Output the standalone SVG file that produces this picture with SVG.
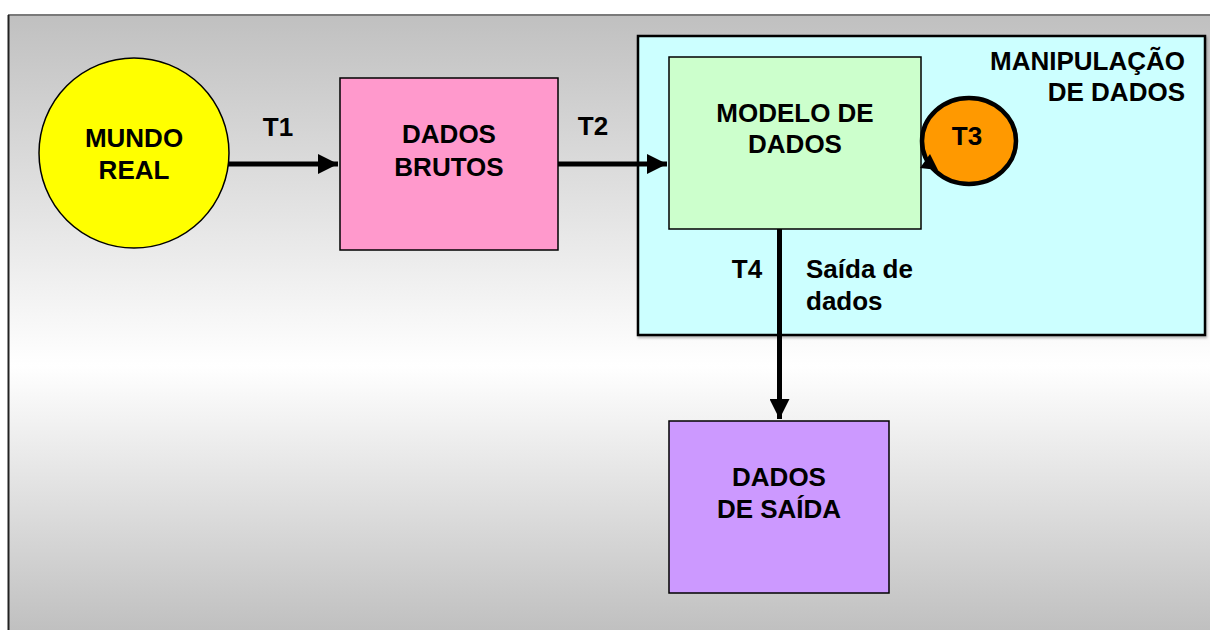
<svg xmlns="http://www.w3.org/2000/svg" width="1210" height="630" viewBox="0 0 1210 630">
  <defs>
    <linearGradient id="bg" x1="0" y1="15" x2="0" y2="630" gradientUnits="userSpaceOnUse">
      <stop offset="0" stop-color="#c0c0c0"/>
      <stop offset="0.57" stop-color="#ffffff"/>
      <stop offset="1" stop-color="#c0c0c0"/>
    </linearGradient>
    <marker id="ah" markerWidth="4" markerHeight="4" refX="4" refY="2" orient="auto" markerUnits="strokeWidth">
      <path d="M0,0 L4,2 L0,4 Z" fill="#000"/>
    </marker>
    <filter id="sh" x="-5%" y="-5%" width="110%" height="110%">
      <feDropShadow dx="1" dy="2" stdDeviation="1" flood-color="#000" flood-opacity="0.25"/>
    </filter>
  </defs>
  <style>
    text { font-family: "Liberation Sans", Arial, sans-serif; font-weight: bold; font-size: 26px; fill: #000; }
    .c { text-anchor: middle; }
    .r { text-anchor: end; }
    .box { stroke: #000; stroke-width: 1.5; }
    .conn { stroke: #000; stroke-width: 5; fill: none; }
  </style>

  <g id="background">
    <rect x="8" y="15" width="1210" height="620" fill="url(#bg)"/>
    <line x1="8" y1="15" x2="1210" y2="15" stroke="#7a7a7a" stroke-width="2"/>
    <line x1="8.5" y1="15" x2="8.5" y2="630" stroke="#222" stroke-width="2"/>
  </g>

  <g id="manipulacao">
    <rect x="638" y="36" width="567" height="299" fill="#ccffff" stroke="#000" stroke-width="2.5" filter="url(#sh)"/>
    <text class="r" x="1185" y="70">MANIPULAÇÃO</text>
    <text class="r" x="1185" y="101">DE DADOS</text>
  </g>

  <g id="mundo-real">
    <circle cx="134" cy="153" r="95" fill="#ffff00" stroke="#000" stroke-width="1.5"/>
    <text class="c" x="134" y="147">MUNDO</text>
    <text class="c" x="134" y="179">REAL</text>
  </g>

  <g id="dados-brutos">
    <rect class="box" x="340" y="78" width="218" height="172" fill="#ff99cc"/>
    <text class="c" x="449" y="143">DADOS</text>
    <text class="c" x="449" y="176">BRUTOS</text>
  </g>

  <g id="modelo-de-dados">
    <rect class="box" x="669" y="57" width="252" height="172" fill="#ccffcc" stroke-width="2"/>
    <text class="c" x="795" y="122">MODELO DE</text>
    <text class="c" x="795" y="153">DADOS</text>
  </g>

  <g id="t3">
    <ellipse cx="969" cy="141" rx="47" ry="43" fill="#ff9900" stroke="#000" stroke-width="4.5"/>
    <polygon points="920,168 930,154 938,170" fill="#000"/>
    <text class="c" x="967" y="145">T3</text>
  </g>

  <g id="dados-de-saida">
    <rect class="box" x="669" y="421" width="220" height="172" fill="#cc99ff"/>
    <text class="c" x="779" y="486">DADOS</text>
    <text class="c" x="779" y="518">DE SAÍDA</text>
  </g>

  <g id="connectors">
    <line class="conn" x1="228" y1="164" x2="338" y2="164" marker-end="url(#ah)"/>
    <line class="conn" x1="558" y1="164" x2="667" y2="164" marker-end="url(#ah)"/>
    <line class="conn" x1="779.5" y1="229" x2="779.5" y2="419" marker-end="url(#ah)"/>
    <text class="c" x="278" y="136">T1</text>
    <text class="c" x="593" y="135">T2</text>
    <text class="c" x="747" y="278">T4</text>
    <text x="806" y="278">Saída de</text>
    <text x="806" y="310">dados</text>
  </g>
</svg>
